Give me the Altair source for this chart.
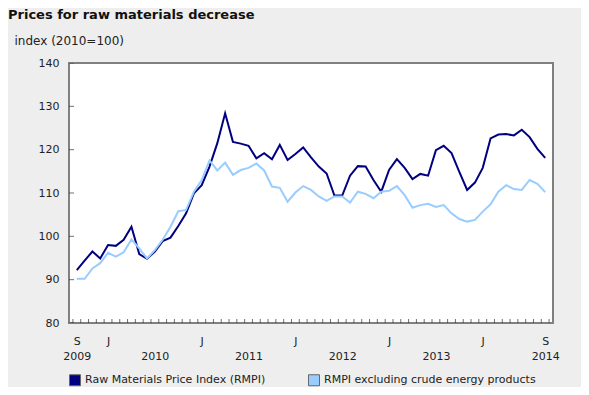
import altair as alt
import pandas as pd

# Monthly index values, Sep 2009 (index 0) .. Sep 2014 (index 60)
month_index = list(range(61))
rmpi = [92.2, 94.4, 96.5, 94.9, 98.0, 97.8, 99.2, 102.2, 95.9, 94.8,
        96.5, 98.9, 99.7, 102.4, 105.3, 109.9, 111.8, 116.1, 121.5, 128.4,
        121.8, 121.4, 120.9, 118.0, 119.2, 117.8, 121.1, 117.6, 119.0, 120.5,
        118.2, 116.1, 114.5, 109.4, 109.4, 114.0, 116.2, 116.1, 113.0, 110.3,
        115.3, 117.8, 115.8, 113.2, 114.4, 114.0, 119.9, 120.9, 119.2, 114.9,
        110.7, 112.4, 115.8, 122.6, 123.5, 123.6, 123.3, 124.6, 122.9, 120.2, 118.1]
rmpi_ex = [90.2, 90.2, 92.6, 93.8, 96.2, 95.3, 96.3, 99.3, 97.2, 94.9,
           96.8, 99.2, 102.2, 105.8, 106.1, 110.3, 113.0, 117.5, 115.2, 117.0,
           114.2, 115.3, 115.8, 116.8, 115.2, 111.5, 111.2, 108.0, 110.1, 111.6,
           110.7, 109.2, 108.2, 109.2, 109.2, 107.8, 110.3, 109.8, 108.8, 110.3,
           110.5, 111.6, 109.5, 106.6, 107.2, 107.5, 106.8, 107.2, 105.3, 104.0,
           103.4, 103.8, 105.7, 107.4, 110.3, 111.8, 110.9, 110.7, 113.0, 112.1, 110.2]

series_names = ["Raw Materials Price Index (RMPI)", "RMPI excluding crude energy products"]
series_colors = ["#000080", "#99ccff"]

y_ticks = [80, 90, 100, 110, 120, 130, 140]
# month-letter labels and year labels by month index
month_letters = {0: "S", 4: "J", 16: "J", 28: "J", 40: "J", 52: "J", 60: "S"}
year_labels = {0: "2009", 10: "2010", 22: "2011", 34: "2012", 46: "2013", 60: "2014"}
month_boundaries = [i - 0.5 for i in range(62)]

FONT = "DejaVu Sans"

df = pd.DataFrame({
    "m": month_index + month_index,
    "v": rmpi + rmpi_ex,
    "s": [series_names[0]] * len(rmpi) + [series_names[1]] * len(rmpi_ex),
})

label_pos = sorted(set(month_letters) | set(year_labels))
expr = "''"
for p in reversed(label_pos):
    a = month_letters.get(p, "")
    b = year_labels.get(p, "")
    expr = f"datum.value == {p} ? ['{a}', '{b}'] : ({expr})"

xscale = alt.Scale(domain=[-1, 61], nice=False, zero=False)
yscale = alt.Scale(domain=[80, 140], nice=False, zero=False)
cscale = alt.Scale(domain=series_names, range=series_colors)

xaxis = alt.Axis(values=label_pos, labelExpr=expr, title=None, grid=False, domain=False,
                 ticks=True, tickSize=0, labelPadding=12, labelFontSize=11, labelFont=FONT,
                 labelColor="#222", labelOverlap=False, labelLineHeight=15,
                 labelBound=False, labelFlush=False)
yaxis = alt.Axis(values=y_ticks, title="index (2010=100)", titleAngle=0, titleAlign="left",
                 titleBaseline="alphabetic", titleX=-55, titleY=-19, titleFont=FONT,
                 titleFontSize=12, titleFontWeight="normal", titleColor="#222",
                 grid=False, domain=False, ticks=True, tickSize=0,
                 labelPadding=10, labelFontSize=11, labelFont=FONT, labelColor="#222")

X = lambda f: alt.X(f, scale=xscale, axis=xaxis)
Y = lambda f: alt.Y(f, scale=yscale, axis=yaxis)

xticks = alt.Chart(pd.DataFrame({"t": month_boundaries})).mark_tick(
    clip=True, size=8, thickness=1, color="#333", orient="vertical"
).encode(x=X("t:Q"), y=alt.datum(80, scale=yscale, axis=yaxis))

yticks = alt.Chart(pd.DataFrame({"yt": y_ticks})).mark_tick(
    clip=True, size=10, thickness=1, color="#333", orient="horizontal"
).encode(x=alt.datum(-1, scale=xscale, axis=xaxis), y=Y("yt:Q"))

line_layers = [
    alt.Chart(df).transform_filter(alt.datum.s == name)
    .mark_line(strokeWidth=2, color=col)
    .encode(x=X("m:Q"), y=Y("v:Q"))
    for name, col in zip(series_names, series_colors)
]

squares = alt.Chart(df).mark_square(opacity=0, filled=True).encode(
    x=X("m:Q"), y=Y("v:Q"),
    fill=alt.Fill("s:N", scale=cscale, legend=alt.Legend(
        title=None, orient="none", direction="horizontal", legendX=0, legendY=311,
        symbolType="square", symbolSize=121, symbolOpacity=1, symbolStrokeColor="#666",
        symbolStrokeWidth=1, labelFont=FONT, labelFontSize=11, labelColor="#222",
        columnPadding=40, labelOffset=4, labelLimit=400)),
)

chart = alt.layer(xticks, yticks, *line_layers, squares).properties(
    width=484, height=260,
    title=alt.Title("Prices for raw materials decrease",
                    anchor="start", frame="group", dx=-61, offset=12, font=FONT, fontSize=13,
                    fontWeight="bold", color="#111"),
    autosize=alt.AutoSizeParams(type="none"),
    padding={"left": 61, "top": 55, "right": 28, "bottom": 64},
    background="#eeeeee",
).configure_view(fill="white", stroke="#808080", strokeWidth=2)

chart.save("out.html", embed_options={"renderer": "svg", "actions": False})
